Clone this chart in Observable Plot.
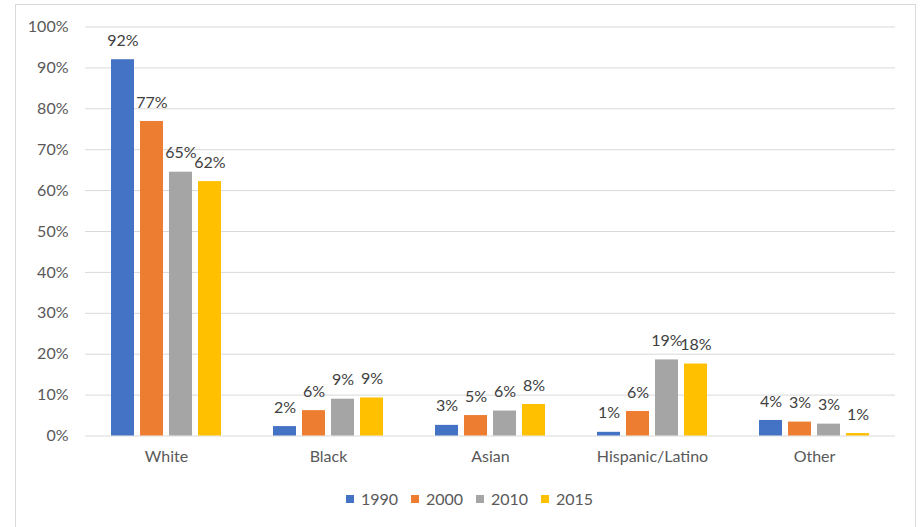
<!DOCTYPE html>
<html>
<head>
<meta charset="utf-8">
<script src="https://cdn.jsdelivr.net/npm/d3@7"></script>
<script src="https://cdn.jsdelivr.net/npm/@observablehq/plot@0.6"></script>
<style>
  html, body { margin: 0; padding: 0; background: #ffffff; }
  body { width: 923px; height: 527px; position: relative; overflow: hidden; font-family: Lato, "Open Sans", sans-serif; }
  #frame { position: absolute; left: 15px; top: 4px; width: 901px; height: 540px; border: 1px solid #d9d9d9; box-sizing: border-box; }
  #chart { position: absolute; left: 0; top: 0; }
  #legend { position: absolute; left: 346px; top: 489px; display: flex; font-size: 16px; color: #595959; }
  .item { display: flex; align-items: center; width: 65px; line-height: 20px; }
  .swatch { width: 8px; height: 8px; margin-right: 7px; }
</style>
</head>
<body>
<div id="frame"></div>
<div id="chart"></div>
<div id="legend"></div>
<script>
// Population share by race/ethnicity (percent of total)
const categories = ["White", "Black", "Asian", "Hispanic/Latino", "Other"];
const years = ["1990", "2000", "2010", "2015"];
const share1990 = [92.0, 2.3, 2.6, 0.9, 3.8];
const share2000 = [76.9, 6.2, 5.0, 6.0, 3.4];
const share2010 = [64.5, 9.0, 6.1, 18.6, 2.9];
const share2015 = [62.2, 9.3, 7.7, 17.6, 0.6];
const yTicks = [0, 10, 20, 30, 40, 50, 60, 70, 80, 90, 100];
const colors = ["#4472C4", "#ED7D31", "#A5A5A5", "#FFC000"];

const series = [share1990, share2000, share2010, share2015];
const rows = [];
categories.forEach((category, i) => {
  years.forEach((year, j) => {
    rows.push({category, year, value: series[j][i]});
  });
});

const pct = (v) => `${Math.round(v)}%`;

const chart = Plot.plot({
  width: 923,
  height: 480,
  marginLeft: 85,
  marginRight: 28,
  marginTop: 26.5,
  marginBottom: 44.5,
  style: {fontFamily: "Lato, 'Open Sans', sans-serif", fontSize: "16px", color: "#595959", background: "transparent"},
  fx: {domain: categories, padding: 0},
  x: {domain: years, paddingInner: 0.215, paddingOuter: 0.872, axis: null},
  y: {domain: [0, 100], axis: null},
  color: {domain: years, range: colors},
  marks: [
    Plot.ruleY(yTicks, {stroke: "#d9d9d9", strokeWidth: 1}),
    Plot.axisY({ticks: yTicks, tickFormat: (d) => `${d}%`, tickSize: 0, tickPadding: 17, label: null, fill: "#595959", fontSize: 16}),
    Plot.axisFx({anchor: "bottom", tickSize: 0, tickPadding: 15, label: null, fill: "#595959", fontSize: 16}),
    Plot.barY(rows, {fx: "category", x: "year", y: "value", fill: "year"}),
    Plot.text(rows, {fx: "category", x: "year", y: "value", text: (d) => pct(d.value), dy: -19, fill: "#404040", fontSize: 16})
  ]
});
document.getElementById("chart").appendChild(chart);

// Legend below the plot
const legend = d3.select("#legend");
years.forEach((year, i) => {
  const item = legend.append("div").attr("class", "item");
  item.append("div").attr("class", "swatch").style("background", colors[i]);
  item.append("span").text(year);
});
</script>
</body>
</html>
